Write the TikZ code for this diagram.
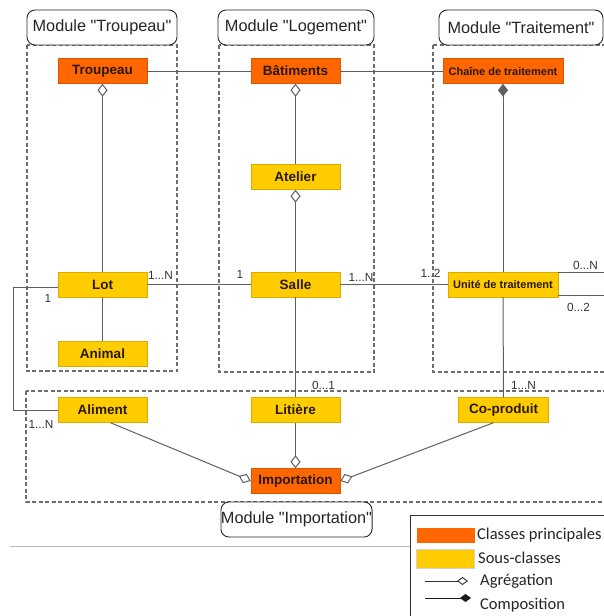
\documentclass[tikz,border=0pt]{standalone}
\usepackage{fontspec}
\setmainfont{Liberation Sans}[Ligatures=TeXOff]
\newfontfamily\legfont{Carlito}
\usetikzlibrary{arrows.meta}
\definecolor{orgC}{RGB}{255,102,0}
\definecolor{yelC}{RGB}{255,204,0}
\definecolor{lineC}{RGB}{95,95,95}
\definecolor{dashC}{RGB}{110,110,110}
\definecolor{txtC}{RGB}{40,25,10}
\begin{document}
\begin{tikzpicture}[x=1pt,y=-1pt,
 main/.style={fill=orgC, draw=orgC!85!black, line width=0.4pt, minimum width=89pt, minimum height=25pt, inner sep=0pt, font=\fontsize{13.5}{15}\selectfont\bfseries, text=txtC},
 sub/.style={main, fill=yelC, draw=yelC!85!black},
 modbox/.style={draw=black!85, fill=white, rounded corners=8pt, line width=0.9pt, minimum height=35pt, inner sep=0pt, font=\fontsize{16.3}{18}\selectfont, text=black!85},
 zone/.style={draw=dashC, dash pattern=on 4pt off 2.5pt, line width=1.1pt},
 conn/.style={draw=lineC, line width=1pt},
 agg/.style={conn, -{Diamond[fill=white, length=13pt, width=10pt]}},
 comp/.style={conn, -{Diamond[length=13pt, width=10pt]}},
 mult/.style={font=\fontsize{11.8}{13}\selectfont, text=black!80, inner sep=0pt},
 legtxt/.style={anchor=west, inner sep=0pt, font=\legfont\fontsize{16.5}{19}\selectfont, text=black!85},
]
\useasboundingbox (0,0) rectangle (604,616);

% zones
\draw[zone] (27,45) rectangle (177,371);
\draw[zone] (219,45) rectangle (374,372);
\draw[zone] (433,45) rectangle (615,372);
\draw[zone] (26,391) rectangle (615,502);

% module labels
\node[modbox, minimum width=150pt] (mT) at (102,27.5) {Module "Troupeau"};
\node[modbox, minimum width=156pt] (mL) at (296,27.5) {Module "Logement"};
\node[modbox, minimum width=164pt] (mR) at (521,27.5) {Module "Traitement"};
\node[modbox, minimum width=151pt] (mI) at (296.5,519.5) {Module "Importation"};

% classes
\node[main] (Troupeau) at (102.5,71) {Troupeau};
\node[main] (Batiments) at (295.5,71) {Bâtiments};
\node[main, minimum width=120pt, font=\fontsize{11}{13}\selectfont\bfseries] (Chaine) at (503,71) {Chaîne de traitement};
\node[sub] (Atelier) at (295.5,177) {Atelier};
\node[sub] (Lot) at (102.5,284.5) {Lot};
\node[sub] (Salle) at (295.5,284.5) {Salle};
\node[sub, minimum width=110pt, font=\fontsize{11}{13}\selectfont\bfseries] (Unite) at (503,284.5) {Unité de traitement};
\node[sub] (Animal) at (102.5,354) {Animal};
\node[sub] (Aliment) at (102.5,410) {Aliment};
\node[sub] (Litiere) at (295.5,410) {Litière};
\node[sub, minimum width=90pt] (Coproduit) at (503.5,410) {Co-produit};
\node[main] (Importation) at (295.5,481) {Importation};

% connectors
\draw[conn] (Troupeau) -- (Batiments);
\draw[conn] (Batiments) -- (Chaine);
\draw[agg] (Lot) -- (Troupeau);
\draw[conn] (Lot) -- (Animal);
\draw[agg] (Atelier) -- (Batiments);
\draw[agg] (Salle) -- (Atelier);
\draw[comp] (Unite) -- (Chaine);
\draw[conn] (Lot) -- (Salle);
\draw[conn] (Salle) -- (Unite);
\draw[conn] (Salle) -- (Litiere);
\draw[agg] (Litiere) -- (Importation);
\draw[conn] (Unite) -- (Coproduit);
\draw[agg] ([xshift=8pt]Aliment.south) -- (Importation.west);
\draw[agg] ([xshift=-10pt]Coproduit.south) -- (Importation.east);
\draw[conn] ([yshift=-3pt]Lot.west) -- ++(-44,0) |- (Aliment.west);
\draw[conn] ([yshift=-1pt]Unite.north east) -- ++(60,0);
\draw[conn] ([yshift=2pt]Unite.south east) -- ++(60,0);

% multiplicities
\node[mult] (m1) at (160.5,275) {1...N};
\node[mult] (m2) at (240,274) {1};
\node[mult] (m3) at (361,277) {1...N};
\node[mult] (m4) at (430.5,273) {1..2};
\node[mult] (m5) at (585.5,265) {0...N};
\node[mult] (m6) at (578.5,307) {0...2};
\node[mult] (m7) at (48,298) {1};
\node[mult] (m8) at (41,424) {1...N};
\node[mult] (m9) at (323.5,385) {0...1};
\node[mult] (m10) at (523.5,385) {1...N};

% separator
\draw[gray!55, line width=0.8pt] (10,546) -- (410,546);

% legend
\draw[black!80, line width=1pt, fill=white] (410,515) rectangle (615,625);
\fill[orgC] (417,528) rectangle (475,543);
\draw[gray!35, fill=yelC, line width=0.5pt] (416,549) rectangle (474,568);
\coordinate (a1) at (425,581);
\coordinate (a2) at (468,581);
\coordinate (c1) at (425,598);
\coordinate (c2) at (471,598);
\draw[black!80, line width=0.9pt, -{Diamond[fill=white, length=11pt, width=8pt]}] (a1) -- (a2);
\draw[black!90, line width=0.9pt, -{Diamond[length=11pt, width=8pt]}] (c1) -- (c2);
\node[legtxt] (l1) at (477,535) {Classes principales};
\node[legtxt] (l2) at (478,558) {Sous-classes};
\node[legtxt] (l3) at (480,581) {Agrégation};
\node[legtxt] (l4) at (480,605) {Composition};
\end{tikzpicture}
\end{document}
